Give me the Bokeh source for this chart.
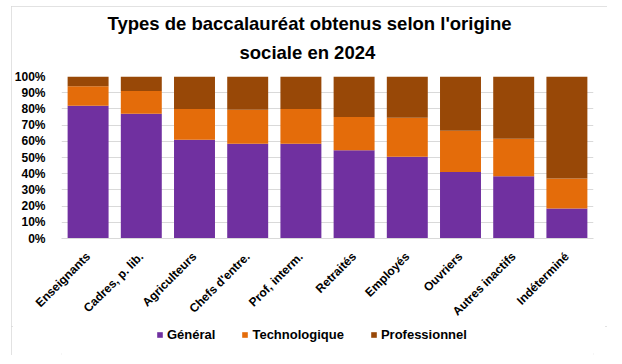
import math
from bokeh.plotting import figure
from bokeh.layouts import column
from bokeh.models import (ColumnDataSource, Range1d, FactorRange, FixedTicker,
                          PrintfTickFormatter, Legend, LegendItem, Title)
from bokeh.embed import file_html
from bokeh.resources import INLINE

categories = ["Enseignants", "Cadres, p. lib.", "Agriculteurs", "Chefs d'entre.",
              "Prof, interm.", "Retraités", "Employés", "Ouvriers",
              "Autres inactifs", "Indéterminé"]
general = [82, 77, 61, 58.5, 58.5, 54.5, 50.5, 41, 38.5, 18.5]
techno = [12, 14, 19, 21, 21.5, 20.5, 24, 25.5, 23, 18.5]
pro = [6, 9, 20, 20.5, 20, 25, 25.5, 33.5, 38.5, 63]
series = ["Général", "Technologique", "Professionnel"]
colors = ["#7030A0", "#E46C0A", "#984807"]
y_ticks = [0, 10, 20, 30, 40, 50, 60, 70, 80, 90, 100]

FONT = "Liberation Sans"

source = ColumnDataSource(dict(cat=categories, g=general, t=techno, p=pro))

p = figure(x_range=FactorRange(*categories, range_padding=0),
           y_range=Range1d(0, 100), width=596, height=320,
           output_backend="svg", toolbar_location=None,
           min_border_left=50, min_border_right=14, min_border_top=70,
           min_border_bottom=87)
p.title = None

renderers = p.vbar_stack(["g", "t", "p"], x="cat", width=0.77, color=colors,
                         line_color=None, source=source)

t2 = Title(text="sociale en 2024", align="left", offset=178,
           text_font=FONT, text_font_size="18.5px", text_font_style="bold",
           text_color="#000000", standoff=27)
t1 = Title(text="Types de baccalauréat obtenus selon l'origine", align="left",
           offset=46, text_font=FONT, text_font_size="18.5px",
           text_font_style="bold", text_color="#000000", standoff=-14)
p.add_layout(t2, "above")
p.add_layout(t1, "above")

p.outline_line_color = None
p.xgrid.grid_line_color = None
p.ygrid.grid_line_color = "#D9D9D9"
p.ygrid.grid_line_width = 1

p.yaxis.ticker = FixedTicker(ticks=y_ticks)
p.yaxis.formatter = PrintfTickFormatter(format="%d%%")
p.yaxis.axis_line_color = None
p.yaxis.major_tick_line_color = None
p.yaxis.minor_tick_line_color = None
p.yaxis.major_label_text_font = FONT
p.yaxis.major_label_text_font_size = "12px"
p.yaxis.major_label_text_font_style = "bold"
p.yaxis.major_label_text_color = "#000000"
p.yaxis.major_label_standoff = 10

p.xaxis.axis_line_color = "#D9D9D9"
p.xaxis.major_tick_line_color = None
p.xaxis.minor_tick_line_color = None
p.xaxis.major_label_orientation = math.pi / 4
p.xaxis.major_label_text_font = FONT
p.xaxis.major_label_text_font_size = "12px"
p.xaxis.major_label_text_font_style = "bold"
p.xaxis.major_label_text_color = "#000000"
p.xaxis.major_label_standoff = 10

# legend strip below the chart (same series, hidden bars only feed the legend)
lf = figure(x_range=p.x_range, y_range=p.y_range, width=596, height=29,
            output_backend="svg", toolbar_location=None,
            min_border=0, min_border_left=0, min_border_right=0,
            min_border_top=0, min_border_bottom=0)
lf.title = None
lf.axis.visible = False
lf.grid.grid_line_color = None
lf.outline_line_color = None
lrs = lf.vbar_stack(["g", "t", "p"], x="cat", width=0.77, color=colors,
                    line_color=None, source=source, visible=False)

legend = Legend(items=[LegendItem(label=s, renderers=[r]) for s, r in zip(series, lrs)],
                orientation="horizontal", location=(95, 13),
                label_text_font=FONT, label_text_font_size="13px",
                label_text_font_style="bold", label_text_color="#000000",
                glyph_width=7, glyph_height=7, label_standoff=4, spacing=26,
                label_height=14, border_line_color=None,
                background_fill_alpha=0, padding=0, margin=0)
lf.add_layout(legend, "center")

layout = column(p, lf, spacing=0, margin=(6, 0, 0, 11))
layout.styles = {"outline": "2px solid #D9D9D9", "outline-offset": "-2px"}

open("out.html", "w").write(file_html(layout, INLINE))
